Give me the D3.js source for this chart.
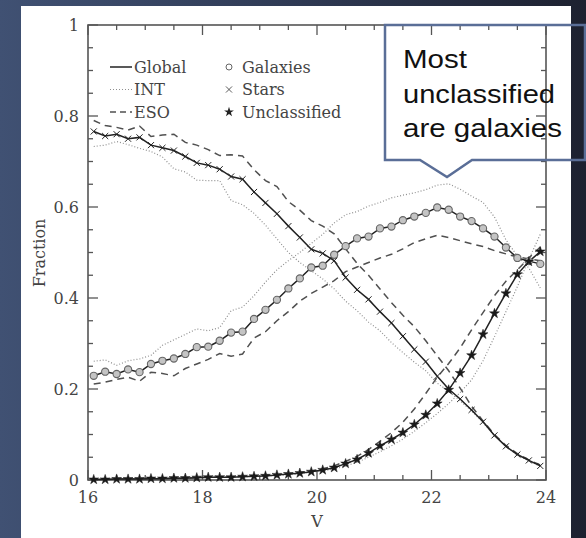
<!DOCTYPE html>
<html>
<head>
<meta charset="utf-8">
<script src="https://cdn.jsdelivr.net/npm/d3@7"></script>
<style>
  html, body { margin: 0; padding: 0; }
  body { width: 586px; height: 538px; overflow: hidden; }
</style>
</head>
<body>
<div id="chart"></div>
<script>
// magnitude bins (V)
const mags = [16.1,16.3,16.5,16.7,16.9,17.1,17.3,17.5,17.7,17.9,
              18.1,18.3,18.5,18.7,18.9,19.1,19.3,19.5,19.7,19.9,
              20.1,20.3,20.5,20.7,20.9,21.1,21.3,21.5,21.7,21.9,
              22.1,22.3,22.5,22.7,22.9,23.1,23.3,23.5,23.7,23.9];

// stars
const starsGlobal = [0.766,0.756,0.760,0.750,0.753,0.736,0.730,0.724,0.711,0.697,
                     0.692,0.683,0.667,0.661,0.633,0.609,0.585,0.558,0.533,0.507,
                     0.498,0.482,0.445,0.418,0.397,0.370,0.345,0.316,0.287,0.260,
                     0.228,0.200,0.178,0.154,0.128,0.098,0.074,0.056,0.043,0.031];
const starsINT = [0.733,0.736,0.744,0.737,0.729,0.722,0.710,0.684,0.677,0.659,
                  0.658,0.658,0.614,0.605,0.586,0.560,0.530,0.500,0.478,0.460,
                  0.442,0.420,0.393,0.372,0.347,0.328,0.302,0.280,0.259,0.240,
                  0.213,0.195,0.174,0.152,0.126,0.098,0.074,0.055,0.042,0.030];
const starsESO = [0.790,0.779,0.775,0.769,0.778,0.755,0.758,0.760,0.742,0.736,
                  0.726,0.713,0.715,0.712,0.682,0.658,0.645,0.612,0.593,0.570,
                  0.558,0.541,0.508,0.476,0.450,0.420,0.390,0.362,0.337,0.306,
                  0.273,0.240,0.202,0.162,0.130,0.100,0.076,0.058,0.044,0.033];

// galaxies
const galGlobal = [0.229,0.238,0.233,0.243,0.237,0.255,0.262,0.267,0.277,0.292,
                   0.293,0.306,0.324,0.326,0.354,0.374,0.396,0.421,0.443,0.467,
                   0.471,0.495,0.514,0.531,0.535,0.553,0.557,0.571,0.579,0.587,
                   0.599,0.594,0.579,0.569,0.553,0.535,0.511,0.488,0.481,0.475];
const galINT = [0.261,0.264,0.252,0.262,0.266,0.274,0.296,0.308,0.320,0.332,
                0.328,0.335,0.372,0.380,0.405,0.435,0.462,0.482,0.500,0.520,
                0.540,0.565,0.583,0.590,0.602,0.610,0.620,0.626,0.631,0.638,
                0.648,0.651,0.639,0.624,0.610,0.578,0.528,0.492,0.466,0.422];
const galESO = [0.211,0.215,0.221,0.226,0.217,0.237,0.234,0.229,0.245,0.255,
                0.265,0.278,0.272,0.277,0.312,0.326,0.350,0.370,0.393,0.410,
                0.424,0.438,0.458,0.468,0.478,0.488,0.496,0.508,0.522,0.530,
                0.538,0.533,0.526,0.519,0.513,0.504,0.497,0.490,0.486,0.482];

// unclassified
const uncGlobal = [0.001,0.001,0.002,0.002,0.002,0.003,0.003,0.004,0.004,0.005,
                   0.006,0.006,0.006,0.007,0.008,0.009,0.011,0.013,0.015,0.018,
                   0.022,0.027,0.036,0.045,0.059,0.075,0.089,0.104,0.122,0.143,
                   0.168,0.198,0.235,0.274,0.320,0.366,0.410,0.452,0.480,0.502];
const uncINT = [0.002,0.002,0.002,0.003,0.003,0.003,0.004,0.004,0.005,0.005,
                0.006,0.006,0.007,0.007,0.008,0.009,0.010,0.011,0.014,0.017,
                0.020,0.024,0.031,0.039,0.050,0.062,0.075,0.090,0.107,0.126,
                0.146,0.168,0.192,0.220,0.262,0.315,0.370,0.425,0.485,0.540];
const uncESO = [0.001,0.001,0.002,0.002,0.002,0.003,0.003,0.004,0.004,0.005,
                0.006,0.006,0.007,0.008,0.009,0.010,0.011,0.013,0.016,0.020,
                0.025,0.031,0.041,0.052,0.067,0.085,0.104,0.127,0.156,0.190,
                0.226,0.256,0.290,0.330,0.368,0.405,0.437,0.462,0.488,0.512];

const xTicks = [16, 18, 20, 22, 24];
const yTicks = [0, 0.2, 0.4, 0.6, 0.8, 1];
const yTickLabels = ["0", "0.2", "0.4", "0.6", "0.8", "1"];
const calloutLines = ["Most", "unclassified", "are galaxies"];

const W = 586, H = 538;
const plot = {left: 88, right: 546, top: 25, bottom: 480};
const serif = "'DejaVu Serif', serif";
const ink = "#444";

const svg = d3.select("#chart").append("svg")
    .attr("width", W).attr("height", H);

// slide background
const grad = svg.append("defs").append("linearGradient")
    .attr("id", "bg").attr("x1", 0).attr("x2", 1).attr("y1", 0).attr("y2", 0);
grad.append("stop").attr("offset", 0).attr("stop-color", "#405173");
grad.append("stop").attr("offset", 0.5).attr("stop-color", "#2f3a54");
grad.append("stop").attr("offset", 1).attr("stop-color", "#1d2130");
svg.append("rect").attr("width", W).attr("height", H).attr("fill", "url(#bg)");

// white figure panel
svg.append("rect")
    .attr("x", 21).attr("y", 6).attr("width", 550).attr("height", H - 6)
    .attr("fill", "white");

const x = d3.scaleLinear().domain([16, 24]).range([plot.left, plot.right]);
const y = d3.scaleLinear().domain([0, 1]).range([plot.bottom, plot.top]);

// ticks (inside, all four sides)
const minorX = d3.range(16, 24.01, 0.5);
const minorY = d3.range(0, 1.001, 0.05);
const tickG = svg.append("g").attr("stroke", "#555").attr("stroke-width", 1.3);

function isMajor(v, step) { return Math.abs(v / step - Math.round(v / step)) < 1e-6; }

minorX.forEach(v => {
  const len = isMajor(v, 2) ? 10 : 5;
  tickG.append("line").attr("x1", x(v)).attr("x2", x(v))
      .attr("y1", plot.bottom).attr("y2", plot.bottom - len);
  tickG.append("line").attr("x1", x(v)).attr("x2", x(v))
      .attr("y1", plot.top).attr("y2", plot.top + len);
});
minorY.forEach(v => {
  const len = isMajor(v, 0.2) ? 10 : 5;
  tickG.append("line").attr("y1", y(v)).attr("y2", y(v))
      .attr("x1", plot.left).attr("x2", plot.left + len);
  tickG.append("line").attr("y1", y(v)).attr("y2", y(v))
      .attr("x1", plot.right).attr("x2", plot.right - len);
});

svg.append("rect")
    .attr("x", plot.left).attr("y", plot.top)
    .attr("width", plot.right - plot.left).attr("height", plot.bottom - plot.top)
    .attr("fill", "none").attr("stroke", "#555").attr("stroke-width", 1.6);

// tick labels
svg.append("g").selectAll("text").data(xTicks).join("text")
    .attr("x", d => x(d)).attr("y", 503)
    .attr("text-anchor", "middle")
    .attr("font-family", serif).attr("font-size", 16).attr("fill", ink)
    .text(d => d);

svg.append("g").selectAll("text").data(yTicks).join("text")
    .attr("x", 79).attr("y", d => y(d)).attr("dy", "0.35em")
    .attr("text-anchor", "end")
    .attr("font-family", serif).attr("font-size", 16).attr("fill", ink)
    .text((d, i) => yTickLabels[i]);

svg.append("text")
    .attr("x", x(20)).attr("y", 527).attr("text-anchor", "middle")
    .attr("font-family", serif).attr("font-size", 16).attr("fill", ink)
    .text("V");

svg.append("text")
    .attr("transform", "translate(45,253) rotate(-90)")
    .attr("text-anchor", "middle")
    .attr("font-family", serif).attr("font-size", 16).attr("fill", ink)
    .text("Fraction");

// curves
const styles = {
  Global: {stroke: "#222", width: 1.5, dash: null},
  INT: {stroke: "#8f8f8f", width: 1.2, dash: "1,2"},
  ESO: {stroke: "#505050", width: 1.5, dash: "7,5"}
};

const line = d3.line().x((d, i) => x(mags[i])).y(d => y(d));

const curves = [
  {vals: starsINT, s: "INT"}, {vals: galINT, s: "INT"}, {vals: uncINT, s: "INT"},
  {vals: starsESO, s: "ESO"}, {vals: galESO, s: "ESO"}, {vals: uncESO, s: "ESO"},
  {vals: starsGlobal, s: "Global"}, {vals: galGlobal, s: "Global"}, {vals: uncGlobal, s: "Global"}
];

svg.append("g").selectAll("path").data(curves).join("path")
    .attr("d", d => line(d.vals))
    .attr("fill", "none")
    .attr("stroke", d => styles[d.s].stroke)
    .attr("stroke-width", d => styles[d.s].width)
    .attr("stroke-dasharray", d => styles[d.s].dash);

// markers on global curves
const cross = d3.symbol().type(d3.symbolX).size(26);
const star = d3.symbol().type(d3.symbolStar).size(30);

svg.append("g").selectAll("circle").data(galGlobal).join("circle")
    .attr("cx", (d, i) => x(mags[i])).attr("cy", d => y(d)).attr("r", 3.6)
    .attr("fill", "#c4c4c4").attr("stroke", "#666").attr("stroke-width", 1.1);

svg.append("g").selectAll("path").data(starsGlobal).join("path")
    .attr("transform", (d, i) => `translate(${x(mags[i])},${y(d)})`)
    .attr("d", cross).attr("fill", "#222").attr("stroke", "#222").attr("stroke-width", 1);

svg.append("g").selectAll("path").data(uncGlobal).join("path")
    .attr("transform", (d, i) => `translate(${x(mags[i])},${y(d)})`)
    .attr("d", star).attr("fill", "#1a1a1a").attr("stroke", "#1a1a1a").attr("stroke-width", 0.5);

// legend
const legRows = [67, 89.5, 112];
const leftLeg = ["Global", "INT", "ESO"];
const lg = svg.append("g");
leftLeg.forEach((name, i) => {
  lg.append("line")
      .attr("x1", 110).attr("x2", 132).attr("y1", legRows[i]).attr("y2", legRows[i])
      .attr("stroke", styles[name].stroke).attr("stroke-width", styles[name].width)
      .attr("stroke-dasharray", name === "ESO" ? "6,4" : styles[name].dash);
  lg.append("text")
      .attr("x", 134).attr("y", legRows[i]).attr("dy", "0.35em")
      .attr("font-family", serif).attr("font-size", 16).attr("fill", ink)
      .text(name);
});
const rightLeg = ["Galaxies", "Stars", "Unclassified"];
rightLeg.forEach((name, i) => {
  if (i === 0) {
    lg.append("circle").attr("cx", 229).attr("cy", legRows[i]).attr("r", 3)
        .attr("fill", "white").attr("stroke", "#666");
  } else if (i === 1) {
    lg.append("path").attr("transform", `translate(229,${legRows[i]})`)
        .attr("d", cross).attr("fill", "#333").attr("stroke", "#333").attr("stroke-width", 0.8);
  } else {
    lg.append("path").attr("transform", `translate(229,${legRows[i]})`)
        .attr("d", star).attr("fill", "#222");
  }
  lg.append("text")
      .attr("x", 242).attr("y", legRows[i]).attr("dy", "0.35em")
      .attr("font-family", serif).attr("font-size", 16).attr("fill", ink)
      .text(name);
});

// callout
const box = {l: 385, r: 585, t: 25, b: 160, tipL: 420, tipR: 472, tipX: 447, tipY: 177};
svg.append("path")
    .attr("d", `M${box.l},${box.t} L${box.r},${box.t} L${box.r},${box.b} L${box.tipR},${box.b}
                L${box.tipX},${box.tipY} L${box.tipL},${box.b} L${box.l},${box.b} Z`)
    .attr("fill", "none").attr("stroke", "#5a6e97").attr("stroke-width", 2.5)
    .attr("stroke-linejoin", "miter");

const calloutWidths = [64, 152, 159];
svg.append("g").selectAll("text").data(calloutLines).join("text")
    .attr("x", 403).attr("y", (d, i) => 68 + i * 34.5)
    .attr("font-family", "'Liberation Sans', Arial, sans-serif")
    .attr("font-size", 25).attr("fill", "#111")
    .attr("textLength", (d, i) => calloutWidths[i])
    .attr("lengthAdjust", "spacingAndGlyphs")
    .text(d => d);
</script>
</body>
</html>
